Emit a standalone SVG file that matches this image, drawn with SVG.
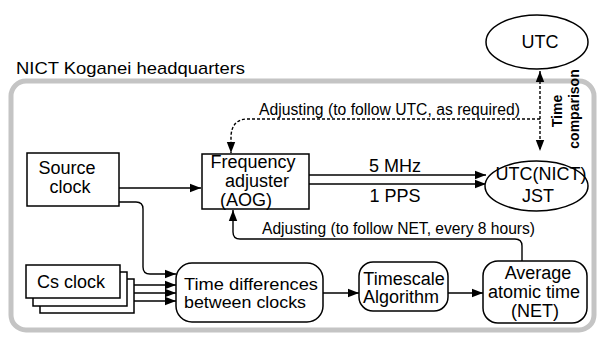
<svg xmlns="http://www.w3.org/2000/svg" width="597" height="338" viewBox="0 0 597 338">
  <style>
    text { font-family: "Liberation Sans", Arial, sans-serif; fill: #000; }
    .lbl { font-size: 18px; text-anchor: middle; }
    .note { font-size: 16px; }
    .box { fill: #fff; stroke: #000; stroke-width: 1.5; }
    .wire { fill: none; stroke: #000; stroke-width: 1.4; }
    .dash { fill: none; stroke: #000; stroke-width: 1.4; stroke-dasharray: 3 2; }
  </style>
  <defs>
    <marker id="arrow" markerUnits="userSpaceOnUse" markerWidth="12" markerHeight="10" refX="11" refY="5" orient="auto-start-reverse">
      <path d="M0,0.8 L11,5 L0,9.2 Z" fill="#000"/>
    </marker>
  </defs>

  <rect width="597" height="338" fill="#fff"/>

  <!-- site frame -->
  <g id="frame">
    <rect x="11" y="81" width="583" height="249" rx="15" fill="none" stroke="#c4c4c4" stroke-width="5"/>
    <text x="16" y="74" font-size="17" textLength="229" lengthAdjust="spacingAndGlyphs">NICT Koganei headquarters</text>
  </g>

  <!-- connectors -->
  <g id="connectors">
    <path class="dash" d="M540,71 V151" marker-start="url(#arrow)" marker-end="url(#arrow)"/>
    <path class="dash" d="M540,119 H246 Q232,120 231,136 V153" marker-end="url(#arrow)"/>
    <path class="wire" d="M119,188 H201" marker-end="url(#arrow)"/>
    <path class="wire" d="M119,202 H136 Q143,202 143,209 V267 Q143,274 150,274 H176" marker-end="url(#arrow)"/>
    <path class="wire" d="M120,285 H176" marker-end="url(#arrow)"/>
    <path class="wire" d="M120,293 H176" marker-end="url(#arrow)"/>
    <path class="wire" d="M127,301 H176" marker-end="url(#arrow)"/>
    <path class="wire" d="M309,175 H486" marker-end="url(#arrow)"/>
    <path class="wire" d="M309,184 H486" marker-end="url(#arrow)"/>
    <path class="wire" d="M323,293 H359" marker-end="url(#arrow)"/>
    <path class="wire" d="M448,293 H483" marker-end="url(#arrow)"/>
    <path class="wire" d="M522,261 V246 Q522,239 515,239 H240 Q233,239 233,232 V210" marker-end="url(#arrow)"/>
    <text class="note" x="259" y="115" textLength="261" lengthAdjust="spacingAndGlyphs">Adjusting (to follow UTC, as required)</text>
    <text class="note" x="262" y="234" textLength="273" lengthAdjust="spacingAndGlyphs">Adjusting (to follow NET, every 8 hours)</text>
    <text class="lbl" x="395" y="172" font-size="16">5 MHz</text>
    <text class="lbl" x="395" y="202" font-size="16">1 PPS</text>
    <text font-size="14" font-weight="bold" text-anchor="middle" transform="translate(562,111) rotate(-90)">Time</text>
    <text font-size="14" font-weight="bold" text-anchor="middle" transform="translate(579,109) rotate(-90)">comparison</text>
  </g>

  <g id="utc">
    <ellipse cx="537" cy="42" rx="51" ry="27" class="box"/>
    <text class="lbl" x="540" y="48" font-size="17">UTC</text>
  </g>

  <g id="utc-nict">
    <ellipse cx="536.5" cy="186" rx="51.5" ry="25" class="box"/>
    <text class="lbl" x="541" y="180" font-size="17">UTC(NICT)</text>
    <text class="lbl" x="538" y="202" font-size="16">JST</text>
  </g>

  <g id="source-clock">
    <rect x="27" y="153" width="92" height="53" class="box"/>
    <text class="lbl" x="67" y="174" font-size="16">Source</text>
    <text class="lbl" x="70" y="193">clock</text>
  </g>

  <g id="frequency-adjuster">
    <rect x="202" y="154" width="107" height="55" class="box"/>
    <text class="lbl" x="253" y="168">Frequency</text>
    <text class="lbl" x="257" y="187">adjuster</text>
    <text class="lbl" x="246" y="206">(AOG)</text>
  </g>

  <g id="cs-clock">
    <rect x="40" y="279" width="94" height="34" class="box"/>
    <rect x="33" y="272" width="94" height="34" class="box"/>
    <rect x="26" y="265" width="94" height="33" class="box"/>
    <text class="lbl" x="71" y="288">Cs clock</text>
  </g>

  <g id="time-differences">
    <rect x="176" y="263" width="147" height="59" rx="16" class="box"/>
    <text x="184" y="290" font-size="17" textLength="134" lengthAdjust="spacingAndGlyphs">Time differences</text>
    <text x="184" y="308" font-size="17" textLength="122" lengthAdjust="spacingAndGlyphs">between clocks</text>
  </g>

  <g id="timescale-algorithm">
    <rect x="359" y="262" width="89" height="49" rx="14" class="box"/>
    <text class="lbl" x="404" y="285">Timescale</text>
    <text class="lbl" x="401" y="303">Algorithm</text>
  </g>

  <g id="average-atomic-time">
    <rect x="483" y="261" width="104" height="62" rx="15" class="box"/>
    <text class="lbl" x="538" y="279">Average</text>
    <text class="lbl" x="534" y="298">atomic time</text>
    <text class="lbl" x="535" y="317">(NET)</text>
  </g>
</svg>
